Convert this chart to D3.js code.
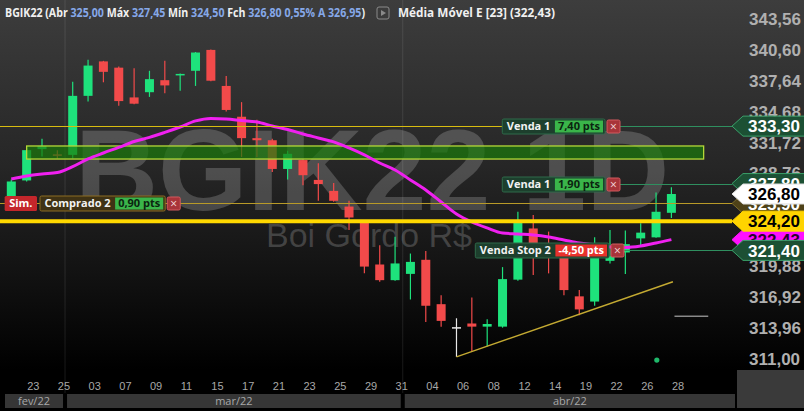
<!DOCTYPE html>
<html>
<head>
<meta charset="utf-8">
<script src="https://cdn.jsdelivr.net/npm/d3@7"></script>
<style>
  html, body { margin: 0; padding: 0; background: #000; }
  svg { display: block; font-family: "Open Sans", sans-serif; }
</style>
</head>
<body>
<div id="chart"></div>
<script>
// ---- data ----
const days = ['22','23','24','25','02','03','04','07','08','09','10','11','14','15','16','17','18','21','22','23','24','25','28','29','30','31',
              '01','04','05','06','07','08','11','12','13','14','18','19','20','22','25','26','27','28'];
const months = ['fev/22','mar/22','abr/22'];
const monthBreaks = [3.5, 25.5];

const opens  = [326.3,328.1,331.1,330.6,330.55,336.2,339.5,338.9,336.05,336.55,337.7,338.2,338.6,340.6,337.15,334.2,332.15,331.95,329.2,330.05,328.15,327.1,
                325.6,324.05,320.05,318.55,319.15,320.5,316.25,314.05,314.4,314.1,314.1,318.6,323.5,321.6,321.0,317.0,316.5,320.4,321.2,322.55,322.65,325.0];
const highs  = [328.2,331.2,332.1,331.0,337.55,339.65,339.55,339.0,338.85,338.6,339.55,338.35,340.4,340.65,338.1,335.6,333.9,332.1,330.95,330.1,329.75,327.85,
                326.15,324.1,321.9,322.7,321.1,321.35,317.1,314.9,316.9,314.8,319.8,325.1,324.8,323.2,321.5,317.6,322.65,323.35,323.3,324.0,326.95,327.45];
const lows   = [325.8,328.0,330.4,330.2,330.2,335.65,337.5,335.25,335.4,336.1,336.45,336.7,337.15,337.6,334.7,330.35,330.35,328.9,328.2,327.65,326.15,326.05,
                323.35,319.2,318.4,318.5,316.7,314.55,314.1,311.2,311.7,312.2,314.0,318.5,319.05,319.2,317.1,315.2,316.1,320.15,319.15,321.75,322.6,324.5];
const closes = [328.0,331.0,331.4,330.55,336.2,339.1,338.5,335.7,335.45,337.8,337.2,338.3,340.35,337.65,334.85,332.15,331.95,329.2,330.65,328.6,327.75,326.15,
                324.55,319.85,318.55,320.15,320.3,316.1,314.65,314.05,314.1,314.35,318.65,324.3,322.1,321.0,317.6,315.75,320.75,320.85,322.0,323.1,325.1,326.8];
const ema23  = [328.24,328.53,328.72,328.86,329.42,330.16,330.73,331.26,331.83,332.22,332.70,333.22,333.80,334.04,333.99,333.84,333.70,333.32,332.98,332.55,332.17,331.79,
                331.21,330.54,329.77,329.10,328.15,327.19,326.04,324.89,324.12,323.55,323.07,322.97,322.88,322.69,322.40,322.11,321.92,321.73,321.68,321.82,322.11,322.43];

const yTicks = [343.56,340.60,337.64,334.68,331.72,328.76,325.80,322.84,319.88,316.92,313.96,311.00];

const orderNames  = ['Venda 1','Venda 1','Comprado 2','Venda Stop 2'];
const orderPrices = [333.30, 327.80, 325.90, 321.40];
const orderPts    = ['7,40 pts','1,90 pts','0,90 pts','-4,50 pts'];
const stopLine    = 324.20;

const tagPrices = [333.30, 327.80, 325.90, 326.80, 322.43, 324.20, 321.40];
const tagKinds  = ['order','order','entry','last','ema','stop','order'];

const zonePrices = [330.15, 331.40];
const zoneIdx    = [1, 45.1];
const trendIdx   = [29, 43.1];
const trendPrices= [311.2, 318.4];
const markIdx    = [43.2, 45.4];
const markPrice  = 315.1;
const dotIdx     = 42.05;
const dotPrice   = 310.9;

const header = [['BGIK22 (Abr ', 'w'], ['325,00', 'b'], [' Máx ', 'w'], ['327,45', 'b'], [' Mín ', 'w'], ['324,50', 'b'],
                [' Fch ', 'w'], ['326,80 0,55%  A 326,95', 'b'], [')', 'w']];
const emaTitle = 'Média Móvel E [23] (322,43)';

// ---- drawing ----
const W = 804, H = 411;
const plotBottom = 370;
const tagTip = 732;

const svg = d3.select('#chart').append('svg')
  .attr('width', W).attr('height', H);

const x = d3.scaleLinear().domain([0, 43]).range([11.3, 671.4]);
const y = d3.scaleLinear().domain([311, 343.56]).range([359, 19]);
const fmt = d3.formatLocale({decimal: ',', thousands: '.', grouping: [3], currency: ['R$', '']}).format('.2f');

const defs = svg.append('defs');
const grad = defs.append('linearGradient').attr('id', 'bg').attr('x1', 0).attr('x2', 0).attr('y1', 0).attr('y2', 1);
grad.append('stop').attr('offset', '0%').attr('stop-color', '#3d3d3d');
grad.append('stop').attr('offset', '45%').attr('stop-color', '#262626');
grad.append('stop').attr('offset', '100%').attr('stop-color', '#000');

svg.append('rect').attr('width', W).attr('height', H).attr('fill', '#000');
svg.append('rect').attr('width', W).attr('height', plotBottom).attr('fill', 'url(#bg)');

// month separators
svg.selectAll('.sep').data(monthBreaks).join('line')
  .attr('x1', d => x(d)).attr('x2', d => x(d))
  .attr('y1', 0).attr('y2', 393)
  .attr('stroke', '#fff').attr('stroke-opacity', 0.1);

// watermark
svg.append('text').text('BGIK22 1D')
  .attr('x', 75).attr('y', 210)
  .attr('font-family', '"Liberation Sans", Arial, sans-serif')
  .attr('font-weight', 'bold').attr('font-size', 115)
  .attr('fill', '#fff').attr('fill-opacity', 0.19);
svg.append('text').text('Boi Gordo R$')
  .attr('x', 266).attr('y', 247)
  .attr('font-family', '"Liberation Sans", Arial, sans-serif')
  .attr('font-size', 34)
  .attr('fill', '#fff').attr('fill-opacity', 0.19);

// candles
const up = '#1ee27c', down = '#f24a4a', flat = '#e8e8e8';
const candleColor = i => closes[i] > opens[i] ? up : (closes[i] < opens[i] ? down : flat);
const candles = svg.append('g').selectAll('g').data(d3.range(opens.length)).join('g');
candles.append('line')
  .attr('x1', i => x(i)).attr('x2', i => x(i))
  .attr('y1', i => y(highs[i])).attr('y2', i => y(lows[i]))
  .attr('stroke', candleColor).attr('stroke-width', 1.2);
candles.append('rect')
  .attr('x', i => x(i) - 4.5).attr('width', 9)
  .attr('y', i => y(Math.max(opens[i], closes[i])))
  .attr('height', i => Math.max(1.5, Math.abs(y(opens[i]) - y(closes[i]))))
  .attr('fill', candleColor);

// zone
svg.append('rect')
  .attr('x', x(zoneIdx[0])).attr('width', x(zoneIdx[1]) - x(zoneIdx[0]))
  .attr('y', y(zonePrices[1])).attr('height', y(zonePrices[0]) - y(zonePrices[1]))
  .attr('fill', '#1a7a0a').attr('fill-opacity', 0.7)
  .attr('stroke', '#b4d838').attr('stroke-width', 1.3);

// ema
svg.append('path').datum(ema23)
  .attr('d', d3.line().x((d, i) => x(i)).y(d => y(d)).curve(d3.curveMonotoneX))
  .attr('fill', 'none').attr('stroke', '#f020f0').attr('stroke-width', 3);

// thick stop line
svg.append('line')
  .attr('x1', 0).attr('x2', tagTip).attr('y1', y(stopLine)).attr('y2', y(stopLine))
  .attr('stroke', '#ffd800').attr('stroke-width', 4);

// trend line and marks
svg.append('line')
  .attr('x1', x(trendIdx[0])).attr('y1', y(trendPrices[0]))
  .attr('x2', x(trendIdx[1])).attr('y2', y(trendPrices[1]))
  .attr('stroke', '#c4aa32').attr('stroke-width', 1.4);
svg.append('line')
  .attr('x1', x(markIdx[0])).attr('x2', x(markIdx[1]))
  .attr('y1', y(markPrice)).attr('y2', y(markPrice))
  .attr('stroke', '#c8c8c8').attr('stroke-width', 1);
svg.append('circle').attr('cx', x(dotIdx)).attr('cy', y(dotPrice)).attr('r', 2.6).attr('fill', '#1fb86a');

// order labels
const measure = (txt, size) => {
  const t = svg.append('text').attr('font-size', size).attr('font-weight', 'bold').text(txt);
  const w = t.node().getComputedTextLength();
  t.remove();
  return w;
};
const orderStyle = [
  {right: 622, leftLine: '#d8bc10', rightLine: '#2f8f5f', fill: '#1d3f2d', stroke: '#2f6b4a', pts: '#3ab54a', ptsText: '#0b2410'},
  {right: 622, leftLine: null, rightLine: '#2f8f5f', fill: '#1d3f2d', stroke: '#2f6b4a', pts: '#3ab54a', ptsText: '#0b2410'},
  {left: 40, full: '#b89a28', fill: '#3f3214', stroke: '#8c6c22', pts: '#3ab54a', ptsText: '#0b2410', sim: true},
  {right: 626, leftLine: null, rightLine: '#2f8f5f', fill: '#1d3f2d', stroke: '#2f6b4a', pts: '#e8322c', ptsText: '#fff'}
];
orderNames.forEach((name, k) => {
  const s = orderStyle[k];
  const yc = Math.round(y(orderPrices[k])) + 0.5;
  const nameW = measure(name, 11) + 9;
  const ptsW = measure(orderPts[k], 11) + 6;
  let nameStart;
  if (s.right) nameStart = s.right - 13 - 4 - ptsW - 2 - nameW;
  else nameStart = s.left;
  const ptsStart = nameStart + nameW;
  const ptsEnd = ptsStart + ptsW;
  const xStart = ptsEnd + 4;
  const xEnd = xStart + 13;

  if (s.full) {
    svg.append('line').attr('x1', 0).attr('x2', tagTip).attr('y1', yc).attr('y2', yc)
      .attr('stroke', s.full).attr('stroke-width', 1);
  }
  if (s.leftLine) {
    svg.append('line').attr('x1', 0).attr('x2', nameStart).attr('y1', yc).attr('y2', yc)
      .attr('stroke', s.leftLine).attr('stroke-width', 1);
  }
  if (s.rightLine) {
    svg.append('line').attr('x1', xEnd).attr('x2', tagTip).attr('y1', yc).attr('y2', yc)
      .attr('stroke', s.rightLine).attr('stroke-width', 1);
  }
  const g = svg.append('g');
  if (s.sim) {
    const simW = measure('Sim.', 11) + 9;
    g.append('rect').attr('x', nameStart - 3 - simW).attr('y', yc - 7.5).attr('width', simW).attr('height', 15)
      .attr('fill', '#c4262b').attr('rx', 1.5);
    g.append('text').text('Sim.').attr('x', nameStart - 3 - simW / 2).attr('y', yc).attr('dy', '0.36em')
      .attr('text-anchor', 'middle').attr('font-size', 11).attr('font-weight', 'bold').attr('fill', '#fff');
  }
  g.append('rect').attr('x', nameStart).attr('y', yc - 7.5).attr('width', ptsEnd + 2 - nameStart).attr('height', 15)
    .attr('fill', s.fill).attr('stroke', s.stroke).attr('rx', 1.5);
  g.append('text').text(name).attr('x', nameStart + nameW / 2).attr('y', yc).attr('dy', '0.36em')
    .attr('text-anchor', 'middle').attr('font-size', 11).attr('font-weight', 'bold').attr('fill', '#f2f2f2');
  g.append('rect').attr('x', ptsStart).attr('y', yc - 6).attr('width', ptsW).attr('height', 12)
    .attr('fill', s.pts);
  g.append('text').text(orderPts[k]).attr('x', ptsStart + ptsW / 2).attr('y', yc).attr('dy', '0.36em')
    .attr('text-anchor', 'middle').attr('font-size', 11).attr('font-weight', 'bold').attr('fill', s.ptsText);
  g.append('rect').attr('x', xStart).attr('y', yc - 6.5).attr('width', 13).attr('height', 13)
    .attr('fill', '#a8343a').attr('stroke', '#d25a5e').attr('rx', 1.5);
  g.append('text').text('×').attr('x', xStart + 6.5).attr('y', yc).attr('dy', '0.36em')
    .attr('text-anchor', 'middle').attr('font-size', 12).attr('fill', '#f4dcdc');
});

// right axis
const axisG = svg.append('g')
  .attr('transform', `translate(${746},0)`)
  .call(d3.axisRight(y).tickValues(yTicks).tickFormat(fmt).tickSize(0).tickPadding(3));
axisG.select('.domain').remove();
axisG.selectAll('text')
  .attr('font-family', '"Liberation Sans", Arial, sans-serif')
  .attr('font-size', 17).attr('font-weight', 'bold').attr('fill', '#b0b0b0');

// price tags
const tagStyle = {
  order: {fill: '#1c5034', stroke: '#3aa06a', text: '#fff'},
  entry: {fill: '#4e4218', stroke: '#7a6a2a', text: '#fff'},
  last:  {fill: '#ffffff', stroke: '#ddd', text: '#000'},
  ema:   {fill: '#ff10ff', stroke: '#ff10ff', text: '#2a002a'},
  stop:  {fill: '#ffd400', stroke: '#ffd400', text: '#000'}
};
tagPrices.forEach((p, k) => {
  const st = tagStyle[tagKinds[k]];
  const yc = y(p);
  svg.append('path')
    .attr('d', `M${tagTip},${yc} L${tagTip + 11},${yc - 10} L${W + 2},${yc - 10} L${W + 2},${yc + 10} L${tagTip + 11},${yc + 10} Z`)
    .attr('fill', st.fill).attr('stroke', st.stroke).attr('stroke-width', 1);
  svg.append('text').text(fmt(p))
    .attr('x', 748).attr('y', yc).attr('dy', '0.36em')
    .attr('font-family', '"Liberation Sans", Arial, sans-serif')
    .attr('font-size', 17).attr('font-weight', 'bold').attr('fill', st.text);
});

// header
const head = svg.append('text').attr('x', 5).attr('y', 17)
  .attr('font-size', 11.5).attr('font-weight', 'bold')
  .attr('textLength', 360).attr('lengthAdjust', 'spacingAndGlyphs');
head.selectAll('tspan').data(header).join('tspan')
  .text(d => d[0])
  .attr('fill', d => d[1] === 'b' ? '#86a8e8' : '#f0f0f0');
svg.append('rect').attr('x', 377).attr('y', 7).attr('width', 12).attr('height', 12).attr('rx', 2)
  .attr('fill', 'none').attr('stroke', '#8a8a8a');
svg.append('path').attr('d', 'M381,10 L386,13 L381,16 Z').attr('fill', '#8a8a8a');
svg.append('text').text(emaTitle).attr('x', 398).attr('y', 17)
  .attr('font-size', 11.5).attr('font-weight', 'bold').attr('fill', '#f0f0f0')
  .attr('textLength', 157).attr('lengthAdjust', 'spacingAndGlyphs');

// bottom date axis
const dateTicks = d3.range(1, days.length, 2);
const xAxisG = svg.append('g')
  .attr('transform', `translate(0,${378})`)
  .call(d3.axisBottom(x).tickValues(dateTicks).tickFormat(i => days[i]).tickSize(0).tickPadding(4));
xAxisG.select('.domain').remove();
xAxisG.selectAll('text')
  .attr('text-anchor', 'start')
  .attr('font-size', 11).attr('fill', '#a8a8a8');

// month bars
const monthEdges = [5, ...monthBreaks.map(d => x(d)), 735];
months.forEach((m, k) => {
  const a = monthEdges[k] + (k === 0 ? 0 : 2);
  const b = monthEdges[k + 1] - (k === months.length - 1 ? 0 : 2);
  svg.append('rect').attr('x', a).attr('y', 394).attr('width', b - a).attr('height', 14).attr('fill', '#363636');
  svg.append('text').text(m).attr('x', (a + b) / 2).attr('y', 401).attr('dy', '0.36em')
    .attr('text-anchor', 'middle').attr('font-size', 11).attr('fill', '#a8a8a8');
});
svg.append('rect').attr('x', 737).attr('y', 370).attr('width', W - 737).attr('height', 38).attr('fill', '#3a3a3a');
</script>
</body>
</html>
